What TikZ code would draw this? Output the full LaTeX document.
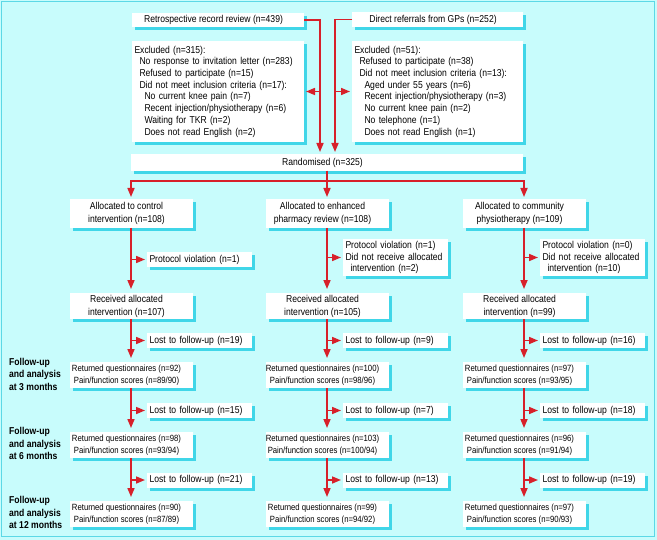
\documentclass[tikz,border=0pt]{standalone}
\usepackage{fontspec}
\setmainfont{Liberation Sans}[FakeStretch=0.86]
\usetikzlibrary{arrows.meta,shadows}
\definecolor{bgc}{HTML}{C8FCFC}
\definecolor{frc}{HTML}{5CD8E6}
\definecolor{shc}{HTML}{40D6E8}
\definecolor{arc}{HTML}{D7202A}
\tikzset{
  every node/.style={font=\fontsize{10bp}{11.7bp}\selectfont},
  bx/.style 2 args={fill=white, drop shadow={shadow xshift=3bp,shadow yshift=-3bp,fill=shc,opacity=1},
    minimum width=#1, minimum height=#2, inner sep=0pt, outer sep=0pt},
  lbx/.style 2 args={bx={0pt}{#2}, text width=#1, inner xsep=2.5bp, align=left},
  ctxt/.style={align=center, inner sep=0pt, xshift=-4.5bp, font=\fontsize{10bp}{13bp}\selectfont},
  rfont/.style={font=\fontsize{9bp}{11.7bp}\selectfont},
  cbx/.style n args={3}{bx={#1}{#2}, label={[ctxt]center:#3}},
  rbx/.style n args={3}{bx={#1}{#2}, label={[ctxt,rfont]center:#3}},
  lab/.style={font=\bfseries\fontsize{10bp}{12.5bp}\selectfont, align=left, inner sep=0pt, anchor=west},
  arr/.style={draw=arc, line width=1.6bp, -{Triangle[length=9bp,width=7bp]}, shorten >=2bp},
}
\begin{document}
\begin{tikzpicture}[x=1bp,y=-1bp]
\path[use as bounding box, fill=bgc] (0,0) rectangle (657,540);
\draw[frc, line width=1.2bp] (1.5,1.5) rectangle (654.5,536.5);

% top
\node[cbx={172bp}{14bp}{Retrospective record review (n=439)}] (retro) at (218,20) {};
\node[cbx={171bp}{15bp}{Direct referrals from GPs (n=252)}] (direct) at (437.5,19.5) {};
\node[lbx={167bp}{101bp}] (exclL) at (218,91.5) {Excluded (n=315):\\
\hspace*{5bp}No response to invitation letter (n=283)\\
\hspace*{5bp}Refused to participate (n=15)\\
\hspace*{5bp}Did not meet inclusion criteria (n=17):\\
\hspace*{10bp}No current knee pain (n=7)\\
\hspace*{10bp}Recent injection/physiotherapy (n=6)\\
\hspace*{10bp}Waiting for TKR (n=2)\\
\hspace*{10bp}Does not read English (n=2)};
\node[lbx={166bp}{101bp}] (exclR) at (437.5,91.5) {Excluded (n=51):\\
\hspace*{5bp}Refused to participate (n=38)\\
\hspace*{5bp}Did not meet inclusion criteria (n=13):\\
\hspace*{10bp}Aged under 55 years (n=6)\\
\hspace*{10bp}Recent injection/physiotherapy (n=3)\\
\hspace*{10bp}No current knee pain (n=2)\\
\hspace*{10bp}No telephone (n=1)\\
\hspace*{10bp}Does not read English (n=1)};
\node[cbx={391bp}{17bp}{Randomised (n=325)}] (rand) at (327,162.5) {};

% allocation
\node[cbx={123bp}{29bp}{Allocated to control\\intervention (n=108)}] (aL) at (131,213.5) {};
\node[cbx={123bp}{29bp}{Allocated to enhanced\\pharmacy review (n=108)}] (aM) at (327,213.5) {};
\node[cbx={123bp}{29bp}{Allocated to community\\physiotherapy (n=109)}] (aR) at (524,213.5) {};

\node[lbx={100bp}{15bp}] (pL) at (199.5,259.5) {Protocol violation (n=1)};
\node[lbx={100bp}{37bp}] (pM) at (395.5,257.5) {Protocol violation (n=1)\\Did not receive allocated\\\hspace*{5bp}intervention (n=2)};
\node[lbx={100bp}{37bp}] (pR) at (592.5,257.5) {Protocol violation (n=0)\\Did not receive allocated\\\hspace*{5bp}intervention (n=10)};

\node[cbx={123bp}{26bp}{Received allocated\\intervention (n=107)}] (rL) at (131,306) {};
\node[cbx={123bp}{26bp}{Received allocated\\intervention (n=105)}] (rM) at (327,306) {};
\node[cbx={123bp}{26bp}{Received allocated\\intervention (n=99)}] (rR) at (524,306) {};

% 3 months
\node[lbx={100bp}{15bp}] (l1L) at (199.5,340.5) {Lost to follow-up (n=19)};
\node[lbx={100bp}{15bp}] (l1M) at (395.5,340.5) {Lost to follow-up (n=9)};
\node[lbx={100bp}{15bp}] (l1R) at (592.5,340.5) {Lost to follow-up (n=16)};
\node[rbx={123bp}{26bp}{Returned questionnaires (n=92)\\Pain/function scores (n=89/90)}] (t1L) at (131,375) {};
\node[rbx={123bp}{26bp}{Returned questionnaires (n=100)\\Pain/function scores (n=98/96)}] (t1M) at (327,375) {};
\node[rbx={123bp}{26bp}{Returned questionnaires (n=97)\\Pain/function scores (n=93/95)}] (t1R) at (524,375) {};

% 6 months
\node[lbx={100bp}{15bp}] (l2L) at (199.5,410.5) {Lost to follow-up (n=15)};
\node[lbx={100bp}{15bp}] (l2M) at (395.5,410.5) {Lost to follow-up (n=7)};
\node[lbx={100bp}{15bp}] (l2R) at (592.5,410.5) {Lost to follow-up (n=18)};
\node[rbx={123bp}{26bp}{Returned questionnaires (n=98)\\Pain/function scores (n=93/94)}] (t2L) at (131,445) {};
\node[rbx={123bp}{26bp}{Returned questionnaires (n=103)\\Pain/function scores (n=100/94)}] (t2M) at (327,445) {};
\node[rbx={123bp}{26bp}{Returned questionnaires (n=96)\\Pain/function scores (n=91/94)}] (t2R) at (524,445) {};

% 12 months
\node[lbx={100bp}{15bp}] (l3L) at (199.5,480) {Lost to follow-up (n=21)};
\node[lbx={100bp}{15bp}] (l3M) at (395.5,480) {Lost to follow-up (n=13)};
\node[lbx={100bp}{15bp}] (l3R) at (592.5,480) {Lost to follow-up (n=19)};
\node[rbx={123bp}{26bp}{Returned questionnaires (n=90)\\Pain/function scores (n=87/89)}] (t3L) at (131,514) {};
\node[rbx={123bp}{26bp}{Returned questionnaires (n=99)\\Pain/function scores (n=94/92)}] (t3M) at (327,514) {};
\node[rbx={123bp}{26bp}{Returned questionnaires (n=97)\\Pain/function scores (n=90/93)}] (t3R) at (524,514) {};

% row labels
\node[lab] (f3) at (9,374) {Follow-up\\and analysis\\at 3 months};
\node[lab] (f6) at (9,443.5) {Follow-up\\and analysis\\at 6 months};
\node[lab] (f12) at (9,512.5) {Follow-up\\and analysis\\at 12 months};

% connectors
\coordinate (vl) at ([xshift=-7bp]rand.north);
\coordinate (vr) at ([xshift=8bp]rand.north);
\draw[arr] (retro.east) -| (vl);
\draw[arr] (direct.west) -| (vr);
\draw[arr] (vl |- exclL.east) -- (exclL.east);
\draw[arr] (vr |- exclR.west) -- (exclR.west);
\draw[arr] (rand.south) -- (aM.north);
\draw[arr] (rand.south) -- ++(0,10) -| (aL.north);
\draw[arr] (rand.south) -- ++(0,10) -| (aR.north);
\foreach \c in {L,M,R}{
  \draw[arr, shorten >=4bp] (a\c.south) -- (r\c.north);
  \draw[arr] (a\c.south |- p\c.west) -- (p\c.west);
  \draw[arr, shorten >=4bp] (r\c.south) -- (t1\c.north);
  \draw[arr] (r\c.south |- l1\c.west) -- (l1\c.west);
  \draw[arr, shorten >=4bp] (t1\c.south) -- (t2\c.north);
  \draw[arr] (t1\c.south |- l2\c.west) -- (l2\c.west);
  \draw[arr, shorten >=4bp] (t2\c.south) -- (t3\c.north);
  \draw[arr] (t2\c.south |- l3\c.west) -- (l3\c.west);
}
\end{tikzpicture}
\end{document}
